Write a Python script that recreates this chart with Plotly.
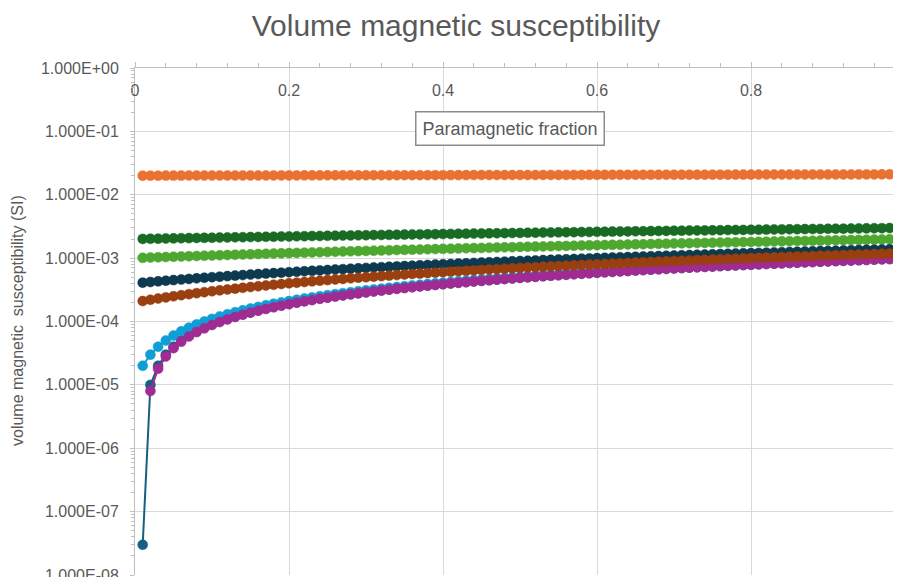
import plotly.graph_objects as go

# Paramagnetic fraction (x)
fraction = [
    0.01, 0.02, 0.03, 0.04, 0.05, 0.06, 0.07, 0.08, 0.09, 0.10,
    0.11, 0.12, 0.13, 0.14, 0.15, 0.16, 0.17, 0.18, 0.19, 0.20,
    0.21, 0.22, 0.23, 0.24, 0.25, 0.26, 0.27, 0.28, 0.29, 0.30,
    0.31, 0.32, 0.33, 0.34, 0.35, 0.36, 0.37, 0.38, 0.39, 0.40,
    0.41, 0.42, 0.43, 0.44, 0.45, 0.46, 0.47, 0.48, 0.49, 0.50,
    0.51, 0.52, 0.53, 0.54, 0.55, 0.56, 0.57, 0.58, 0.59, 0.60,
    0.61, 0.62, 0.63, 0.64, 0.65, 0.66, 0.67, 0.68, 0.69, 0.70,
    0.71, 0.72, 0.73, 0.74, 0.75, 0.76, 0.77, 0.78, 0.79, 0.80,
    0.81, 0.82, 0.83, 0.84, 0.85, 0.86, 0.87, 0.88, 0.89, 0.90,
    0.91, 0.92, 0.93, 0.94, 0.95, 0.96, 0.97, 0.98, 0.99,
]

# Series values, in units of 1e-3 SI
teal_mSI = [
    0.00003, 0.01, 0.02, 0.03, 0.04, 0.05, 0.06, 0.07, 0.08, 0.09,
    0.10, 0.11, 0.12, 0.13, 0.14, 0.15, 0.16, 0.17, 0.18, 0.19,
    0.20, 0.21, 0.22, 0.23, 0.24, 0.25, 0.26, 0.27, 0.28, 0.29,
    0.30, 0.31, 0.32, 0.33, 0.34, 0.35, 0.36, 0.37, 0.38, 0.39,
    0.40, 0.41, 0.42, 0.43, 0.44, 0.45, 0.46, 0.47, 0.48, 0.49,
    0.50, 0.51, 0.52, 0.53, 0.54, 0.55, 0.56, 0.57, 0.58, 0.59,
    0.60, 0.61, 0.62, 0.63, 0.64, 0.65, 0.66, 0.67, 0.68, 0.69,
    0.70, 0.71, 0.72, 0.73, 0.74, 0.75, 0.76, 0.77, 0.78, 0.79,
    0.80, 0.81, 0.82, 0.83, 0.84, 0.85, 0.86, 0.87, 0.88, 0.89,
    0.90, 0.91, 0.92, 0.93, 0.94, 0.95, 0.96, 0.97, 0.98,
]

orange_mSI = [
    20.01, 20.02, 20.03, 20.04, 20.05, 20.06, 20.07, 20.08, 20.09, 20.10,
    20.11, 20.12, 20.13, 20.14, 20.15, 20.16, 20.17, 20.18, 20.19, 20.20,
    20.21, 20.22, 20.23, 20.24, 20.25, 20.26, 20.27, 20.28, 20.29, 20.30,
    20.31, 20.32, 20.33, 20.34, 20.35, 20.36, 20.37, 20.38, 20.39, 20.40,
    20.41, 20.42, 20.43, 20.44, 20.45, 20.46, 20.47, 20.48, 20.49, 20.50,
    20.51, 20.52, 20.53, 20.54, 20.55, 20.56, 20.57, 20.58, 20.59, 20.60,
    20.61, 20.62, 20.63, 20.64, 20.65, 20.66, 20.67, 20.68, 20.69, 20.70,
    20.71, 20.72, 20.73, 20.74, 20.75, 20.76, 20.77, 20.78, 20.79, 20.80,
    20.81, 20.82, 20.83, 20.84, 20.85, 20.86, 20.87, 20.88, 20.89, 20.90,
    20.91, 20.92, 20.93, 20.94, 20.95, 20.96, 20.97, 20.98, 20.99,
]

dark_green_mSI = [
    2.01, 2.02, 2.03, 2.04, 2.05, 2.06, 2.07, 2.08, 2.09, 2.10,
    2.11, 2.12, 2.13, 2.14, 2.15, 2.16, 2.17, 2.18, 2.19, 2.20,
    2.21, 2.22, 2.23, 2.24, 2.25, 2.26, 2.27, 2.28, 2.29, 2.30,
    2.31, 2.32, 2.33, 2.34, 2.35, 2.36, 2.37, 2.38, 2.39, 2.40,
    2.41, 2.42, 2.43, 2.44, 2.45, 2.46, 2.47, 2.48, 2.49, 2.50,
    2.51, 2.52, 2.53, 2.54, 2.55, 2.56, 2.57, 2.58, 2.59, 2.60,
    2.61, 2.62, 2.63, 2.64, 2.65, 2.66, 2.67, 2.68, 2.69, 2.70,
    2.71, 2.72, 2.73, 2.74, 2.75, 2.76, 2.77, 2.78, 2.79, 2.80,
    2.81, 2.82, 2.83, 2.84, 2.85, 2.86, 2.87, 2.88, 2.89, 2.90,
    2.91, 2.92, 2.93, 2.94, 2.95, 2.96, 2.97, 2.98, 2.99,
]

light_blue_mSI = [
    0.02, 0.03, 0.04, 0.05, 0.06, 0.07, 0.08, 0.09, 0.10, 0.11,
    0.12, 0.13, 0.14, 0.15, 0.16, 0.17, 0.18, 0.19, 0.20, 0.21,
    0.22, 0.23, 0.24, 0.25, 0.26, 0.27, 0.28, 0.29, 0.30, 0.31,
    0.32, 0.33, 0.34, 0.35, 0.36, 0.37, 0.38, 0.39, 0.40, 0.41,
    0.42, 0.43, 0.44, 0.45, 0.46, 0.47, 0.48, 0.49, 0.50, 0.51,
    0.52, 0.53, 0.54, 0.55, 0.56, 0.57, 0.58, 0.59, 0.60, 0.61,
    0.62, 0.63, 0.64, 0.65, 0.66, 0.67, 0.68, 0.69, 0.70, 0.71,
    0.72, 0.73, 0.74, 0.75, 0.76, 0.77, 0.78, 0.79, 0.80, 0.81,
    0.82, 0.83, 0.84, 0.85, 0.86, 0.87, 0.88, 0.89, 0.90, 0.91,
    0.92, 0.93, 0.94, 0.95, 0.96, 0.97, 0.98, 0.99, 1.00,
]

purple_mSI = [
    None, 0.008, 0.018, 0.028, 0.038, 0.048, 0.058, 0.068, 0.078, 0.088,
    0.098, 0.108, 0.118, 0.128, 0.138, 0.148, 0.158, 0.168, 0.178, 0.188,
    0.198, 0.208, 0.218, 0.228, 0.238, 0.248, 0.258, 0.268, 0.278, 0.288,
    0.298, 0.308, 0.318, 0.328, 0.338, 0.348, 0.358, 0.368, 0.378, 0.388,
    0.398, 0.408, 0.418, 0.428, 0.438, 0.448, 0.458, 0.468, 0.478, 0.488,
    0.498, 0.508, 0.518, 0.528, 0.538, 0.548, 0.558, 0.568, 0.578, 0.588,
    0.598, 0.608, 0.618, 0.628, 0.638, 0.648, 0.658, 0.668, 0.678, 0.688,
    0.698, 0.708, 0.718, 0.728, 0.738, 0.748, 0.758, 0.768, 0.778, 0.788,
    0.798, 0.808, 0.818, 0.828, 0.838, 0.848, 0.858, 0.868, 0.878, 0.888,
    0.898, 0.908, 0.918, 0.928, 0.938, 0.948, 0.958, 0.968, 0.978,
]

light_green_mSI = [
    1.01, 1.02, 1.03, 1.04, 1.05, 1.06, 1.07, 1.08, 1.09, 1.10,
    1.11, 1.12, 1.13, 1.14, 1.15, 1.16, 1.17, 1.18, 1.19, 1.20,
    1.21, 1.22, 1.23, 1.24, 1.25, 1.26, 1.27, 1.28, 1.29, 1.30,
    1.31, 1.32, 1.33, 1.34, 1.35, 1.36, 1.37, 1.38, 1.39, 1.40,
    1.41, 1.42, 1.43, 1.44, 1.45, 1.46, 1.47, 1.48, 1.49, 1.50,
    1.51, 1.52, 1.53, 1.54, 1.55, 1.56, 1.57, 1.58, 1.59, 1.60,
    1.61, 1.62, 1.63, 1.64, 1.65, 1.66, 1.67, 1.68, 1.69, 1.70,
    1.71, 1.72, 1.73, 1.74, 1.75, 1.76, 1.77, 1.78, 1.79, 1.80,
    1.81, 1.82, 1.83, 1.84, 1.85, 1.86, 1.87, 1.88, 1.89, 1.90,
    1.91, 1.92, 1.93, 1.94, 1.95, 1.96, 1.97, 1.98, 1.99,
]

navy_mSI = [
    0.41, 0.42, 0.43, 0.44, 0.45, 0.46, 0.47, 0.48, 0.49, 0.50,
    0.51, 0.52, 0.53, 0.54, 0.55, 0.56, 0.57, 0.58, 0.59, 0.60,
    0.61, 0.62, 0.63, 0.64, 0.65, 0.66, 0.67, 0.68, 0.69, 0.70,
    0.71, 0.72, 0.73, 0.74, 0.75, 0.76, 0.77, 0.78, 0.79, 0.80,
    0.81, 0.82, 0.83, 0.84, 0.85, 0.86, 0.87, 0.88, 0.89, 0.90,
    0.91, 0.92, 0.93, 0.94, 0.95, 0.96, 0.97, 0.98, 0.99, 1.00,
    1.01, 1.02, 1.03, 1.04, 1.05, 1.06, 1.07, 1.08, 1.09, 1.10,
    1.11, 1.12, 1.13, 1.14, 1.15, 1.16, 1.17, 1.18, 1.19, 1.20,
    1.21, 1.22, 1.23, 1.24, 1.25, 1.26, 1.27, 1.28, 1.29, 1.30,
    1.31, 1.32, 1.33, 1.34, 1.35, 1.36, 1.37, 1.38, 1.39,
]

brown_mSI = [
    0.21, 0.22, 0.23, 0.24, 0.25, 0.26, 0.27, 0.28, 0.29, 0.30,
    0.31, 0.32, 0.33, 0.34, 0.35, 0.36, 0.37, 0.38, 0.39, 0.40,
    0.41, 0.42, 0.43, 0.44, 0.45, 0.46, 0.47, 0.48, 0.49, 0.50,
    0.51, 0.52, 0.53, 0.54, 0.55, 0.56, 0.57, 0.58, 0.59, 0.60,
    0.61, 0.62, 0.63, 0.64, 0.65, 0.66, 0.67, 0.68, 0.69, 0.70,
    0.71, 0.72, 0.73, 0.74, 0.75, 0.76, 0.77, 0.78, 0.79, 0.80,
    0.81, 0.82, 0.83, 0.84, 0.85, 0.86, 0.87, 0.88, 0.89, 0.90,
    0.91, 0.92, 0.93, 0.94, 0.95, 0.96, 0.97, 0.98, 0.99, 1.00,
    1.01, 1.02, 1.03, 1.04, 1.05, 1.06, 1.07, 1.08, 1.09, 1.10,
    1.11, 1.12, 1.13, 1.14, 1.15, 1.16, 1.17, 1.18, 1.19,
]

y_tick_values = [1e0, 1e-1, 1e-2, 1e-3, 1e-4, 1e-5, 1e-6, 1e-7, 1e-8]
y_tick_labels = ["1.000E+00", "1.000E-01", "1.000E-02", "1.000E-03", "1.000E-04",
                 "1.000E-05", "1.000E-06", "1.000E-07", "1.000E-08"]
x_tick_values = [0, 0.2, 0.4, 0.6, 0.8]
x_tick_labels = ["0", "0.2", "0.4", "0.6", "0.8"]

series = [
    ("Series 1", teal_mSI, "#156082"),
    ("Series 2", orange_mSI, "#E97132"),
    ("Series 3", dark_green_mSI, "#196B24"),
    ("Series 4", light_blue_mSI, "#0F9ED5"),
    ("Series 5", purple_mSI, "#A02B93"),
    ("Series 6", light_green_mSI, "#4EA72E"),
    ("Series 7", navy_mSI, "#0D3A4E"),
    ("Series 8", brown_mSI, "#993F10"),
]

TXT = "#595959"
FONT = "Liberation Sans, Arial, sans-serif"

# the page body adds an 8px offset; the figure is sized to fill the rest
W, H = 893, 569
L, T = 127, 60
PW, PH = W - L, H - T - 2

fig = go.Figure()
for name, vals, color in series:
    fig.add_trace(go.Scatter(
        x=fraction,
        y=[None if v is None else v * 1e-3 for v in vals],
        name=name,
        mode="lines+markers",
        line=dict(color=color, width=2),
        marker=dict(color=color, size=10, line=dict(color=color, width=0.5)),
    ))

fig.update_layout(
    width=W, height=H,
    margin=dict(l=L, r=0, t=T, b=2),
    paper_bgcolor="white", plot_bgcolor="white",
    showlegend=False,
    font=dict(family=FONT, color=TXT, size=16),
    title=dict(text="Volume magnetic susceptibility",
               font=dict(family=FONT, size=30, color=TXT),
               x=448 / W, xanchor="center", y=1 - 17 / H, yanchor="middle"),
    xaxis=dict(
        range=[0, 0.9948], side="top", automargin=False,
        tickvals=x_tick_values, ticktext=x_tick_labels,
        ticklabelposition="inside", ticklabeloverflow="allow",
        ticklabelstandoff=17,
        ticks="outside", ticklen=5, tickcolor="#BFBFBF",
        showgrid=True, gridcolor="#D9D9D9", gridwidth=1,
        showline=True, linecolor="#BFBFBF", linewidth=1,
        zeroline=False,
        minor=dict(dtick=0.04, tick0=0, ticks="outside", ticklen=4, tickcolor="#BFBFBF", showgrid=False),
        tickfont=dict(size=16, color=TXT),
    ),
    yaxis=dict(
        type="log", range=[-8, 0], automargin=False,
        tickvals=y_tick_values, ticktext=y_tick_labels,
        ticklabeloverflow="allow",
        ticks="outside", ticklen=4, tickcolor="#BFBFBF",
        showgrid=True, gridcolor="#D9D9D9", gridwidth=1,
        showline=True, linecolor="#BFBFBF", linewidth=1,
        zeroline=False,
        minor=dict(dtick="D1", ticks="outside", ticklen=3, tickcolor="#BFBFBF", showgrid=False),
        tickfont=dict(size=16, color=TXT),
        ticklabelstandoff=8,
    ),
    annotations=[
        dict(
            text="Paramagnetic fraction", xref="paper", yref="paper",
            x=(502 - L) / PW, y=1 - (121 - T) / PH, xanchor="center", yanchor="middle",
            showarrow=False, font=dict(size=18, color=TXT),
            bordercolor="#8C8C8C", borderwidth=1.5, borderpad=6, bgcolor="white",
        ),
        dict(
            text="volume magnetic  susceptibility (SI)", xref="paper", yref="paper",
            x=(9 - L) / PW, y=1 - (313 - T) / PH, xanchor="center", yanchor="middle",
            textangle=-90, showarrow=False, font=dict(size=16, color=TXT),
        ),
    ],
)

fig.write_html("out.html")
